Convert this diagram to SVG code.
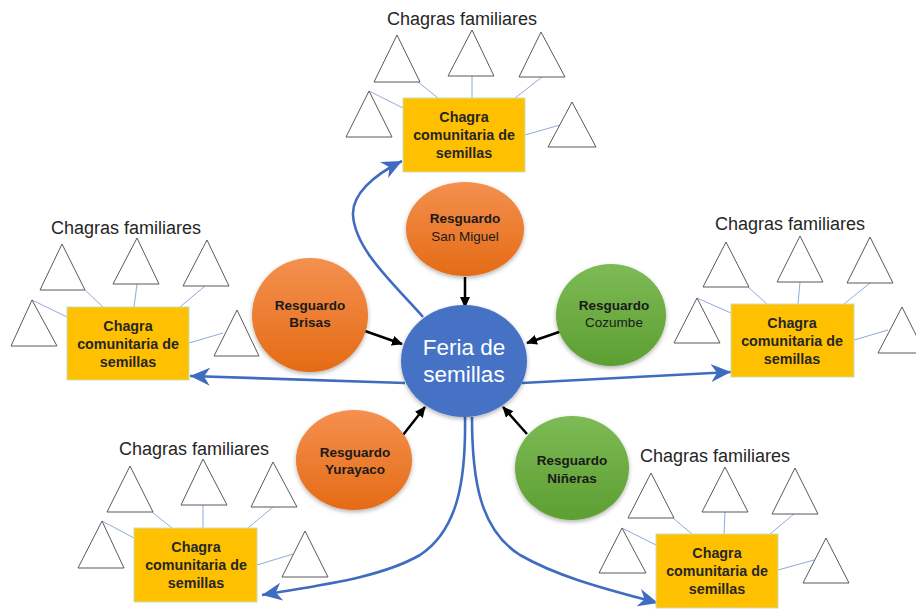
<svg xmlns="http://www.w3.org/2000/svg" width="916" height="609" viewBox="0 0 916 609">
<defs>
<linearGradient id="gOr" x1="0" y1="0" x2="0" y2="1"><stop offset="0" stop-color="#f4904f"/><stop offset="1" stop-color="#e56b15"/></linearGradient>
<linearGradient id="gGr" x1="0" y1="0" x2="0" y2="1"><stop offset="0" stop-color="#7dba55"/><stop offset="1" stop-color="#5d9f32"/></linearGradient>
<filter id="sh" x="-20%" y="-20%" width="140%" height="140%"><feDropShadow dx="0" dy="2" stdDeviation="2" flood-color="#000" flood-opacity="0.3"/></filter>
<marker id="mb" markerUnits="userSpaceOnUse" markerWidth="21" markerHeight="18" refX="20" refY="9" orient="auto"><path d="M0,0 L20,9 L0,18 L6,9 Z" fill="#3f6cc0"/></marker>
<marker id="mk" markerUnits="userSpaceOnUse" markerWidth="11" markerHeight="10" refX="10" refY="5" orient="auto"><path d="M0,0 L11,5 L0,10 Z" fill="#000"/></marker>
<style>
.tt{font-family:"Liberation Sans",Arial,sans-serif;font-size:18px;fill:#262626;text-anchor:middle}
.tri{fill:#fff;stroke:#595959;stroke-width:1}
.box{fill:#ffc000;stroke:#c5e0b4;stroke-width:1}
.bt{font-family:"Liberation Sans",Arial,sans-serif;font-size:14.3px;font-weight:bold;fill:#262626;text-anchor:middle}
.ct{font-family:"Liberation Sans",Arial,sans-serif;font-size:13.5px;fill:#1a1a1a;text-anchor:middle}
.b{font-weight:bold}
.thin{stroke:#8faadc;stroke-width:1;fill:none}
.blu{stroke:#3f6cc0;stroke-width:2.6;fill:none}
.blk{stroke:#000;stroke-width:2.5;fill:none}
</style>
</defs>
<rect width="916" height="609" fill="#fff"/>

<g id="connectors">
<!-- thin lines top -->
<line class="thin" x1="418" y1="82" x2="438" y2="98"/>
<line class="thin" x1="472" y1="76" x2="472" y2="98"/>
<line class="thin" x1="542" y1="77" x2="515" y2="98"/>
<line class="thin" x1="369" y1="91" x2="403" y2="108"/>
<line class="thin" x1="525" y1="135" x2="560" y2="125"/>
<!-- left -->
<line class="thin" x1="85" y1="290" x2="103" y2="307"/>
<line class="thin" x1="137" y1="284" x2="134" y2="307"/>
<line class="thin" x1="205" y1="286" x2="180" y2="307"/>
<line class="thin" x1="32" y1="300" x2="67" y2="317"/>
<line class="thin" x1="189" y1="343" x2="223" y2="333"/>
<!-- right -->
<line class="thin" x1="748" y1="287" x2="767" y2="304"/>
<line class="thin" x1="800" y1="282" x2="798" y2="304"/>
<line class="thin" x1="870" y1="283" x2="844" y2="304"/>
<line class="thin" x1="697" y1="298" x2="731" y2="313"/>
<line class="thin" x1="854" y1="340" x2="888" y2="330"/>
<!-- bottom-left -->
<line class="thin" x1="152" y1="512" x2="172" y2="528"/>
<line class="thin" x1="203" y1="505" x2="203" y2="528"/>
<line class="thin" x1="273" y1="507" x2="248" y2="528"/>
<line class="thin" x1="102" y1="521" x2="134" y2="538"/>
<line class="thin" x1="257" y1="565" x2="293" y2="554"/>
<!-- bottom-right -->
<line class="thin" x1="673" y1="518" x2="692" y2="534"/>
<line class="thin" x1="725" y1="512" x2="724" y2="534"/>
<line class="thin" x1="794" y1="514" x2="770" y2="534"/>
<line class="thin" x1="622" y1="528" x2="656" y2="545"/>
<line class="thin" x1="778" y1="570" x2="814" y2="560"/>
<!-- blue arrows -->
<path class="blu" marker-end="url(#mb)" d="M423,317 C395,285 355,250 353,215 C352,195 372,176 402,161"/>
<path class="blu" marker-end="url(#mb)" d="M405,383 L190,376"/>
<path class="blu" marker-end="url(#mb)" d="M522,383 L731,372"/>
<path class="blu" marker-end="url(#mb)" d="M465,417 C466,480 458,530 420,555 C380,578 320,585 262,595"/>
<path class="blu" marker-end="url(#mb)" d="M472,417 C472,480 480,530 520,555 C560,578 610,590 658,603"/>
<!-- black arrows -->
<line class="blk" marker-end="url(#mk)" x1="465" y1="277" x2="465" y2="307"/>
<line class="blk" marker-end="url(#mk)" x1="365" y1="331" x2="402" y2="344"/>
<line class="blk" marker-end="url(#mk)" x1="562" y1="331" x2="527" y2="343"/>
<line class="blk" marker-end="url(#mk)" x1="403" y1="435" x2="425" y2="407"/>
<line class="blk" marker-end="url(#mk)" x1="527" y1="434" x2="503" y2="407"/>
</g>

<g id="cluster-top">
<text class="tt" x="462" y="25">Chagras familiares</text>
<g id="top-t1"><polygon class="tri" points="397,35 420,82 374,82"/></g>
<g id="top-t2"><polygon class="tri" points="472,30 494,76 448,76"/></g>
<g id="top-t3"><polygon class="tri" points="541,32 565,77 519,77"/></g>
<g id="top-t4"><polygon class="tri" points="369,91 392,137 346,137"/></g>
<g id="top-t5"><polygon class="tri" points="572,102 596,147 548,147"/></g>
<g id="top-box"><rect class="box" x="403" y="98" width="122" height="74"/>
<text class="bt" x="464" y="122">Chagra</text><text class="bt" x="464" y="140">comunitaria de</text><text class="bt" x="464" y="158">semillas</text></g>
</g>

<g id="cluster-left">
<text class="tt" x="126" y="234">Chagras familiares</text>
<g id="left-t1"><polygon class="tri" points="62,244 85,290 40,290"/></g>
<g id="left-t2"><polygon class="tri" points="137,238 159,284 113,284"/></g>
<g id="left-t3"><polygon class="tri" points="207,240 229,286 183,286"/></g>
<g id="left-t4"><polygon class="tri" points="32,300 57,346 11,346"/></g>
<g id="left-t5"><polygon class="tri" points="237,310 259,356 214,356"/></g>
<g id="left-box"><rect class="box" x="67" y="307" width="122" height="73"/>
<text class="bt" x="128" y="331">Chagra</text><text class="bt" x="128" y="349">comunitaria de</text><text class="bt" x="128" y="367">semillas</text></g>
</g>

<g id="cluster-right">
<text class="tt" x="790" y="230">Chagras familiares</text>
<g id="right-t1"><polygon class="tri" points="726,242 749,287 703,287"/></g>
<g id="right-t2"><polygon class="tri" points="800,236 823,282 777,282"/></g>
<g id="right-t3"><polygon class="tri" points="870,237 893,283 847,283"/></g>
<g id="right-t4"><polygon class="tri" points="697,298 720,343 674,343"/></g>
<g id="right-t5"><polygon class="tri" points="902,307 925,353 878,353"/></g>
<g id="right-box"><rect class="box" x="731" y="304" width="123" height="73"/>
<text class="bt" x="792" y="328">Chagra</text><text class="bt" x="792" y="346">comunitaria de</text><text class="bt" x="792" y="364">semillas</text></g>
</g>

<g id="cluster-bottom-left">
<text class="tt" x="194" y="455">Chagras familiares</text>
<g id="bl-t1"><polygon class="tri" points="130,466 153,512 107,512"/></g>
<g id="bl-t2"><polygon class="tri" points="203,459 227,505 181,505"/></g>
<g id="bl-t3"><polygon class="tri" points="273,462 297,507 251,507"/></g>
<g id="bl-t4"><polygon class="tri" points="102,521 124,568 78,568"/></g>
<g id="bl-t5"><polygon class="tri" points="305,531 328,577 282,577"/></g>
<g id="bl-box"><rect class="box" x="134" y="528" width="123" height="74"/>
<text class="bt" x="196" y="552">Chagra</text><text class="bt" x="196" y="570">comunitaria de</text><text class="bt" x="196" y="588">semillas</text></g>
</g>

<g id="cluster-bottom-right">
<text class="tt" x="715" y="462">Chagras familiares</text>
<g id="br-t1"><polygon class="tri" points="651,473 674,518 628,518"/></g>
<g id="br-t2"><polygon class="tri" points="725,467 748,512 702,512"/></g>
<g id="br-t3"><polygon class="tri" points="795,468 818,514 772,514"/></g>
<g id="br-t4"><polygon class="tri" points="622,528 646,573 599,573"/></g>
<g id="br-t5"><polygon class="tri" points="826,538 849,583 803,583"/></g>
<g id="br-box"><rect class="box" x="656" y="534" width="122" height="74"/>
<text class="bt" x="717" y="558">Chagra</text><text class="bt" x="717" y="576">comunitaria de</text><text class="bt" x="717" y="594">semillas</text></g>
</g>

<g id="resguardo-san-miguel"><ellipse cx="465" cy="229" rx="59" ry="47" fill="url(#gOr)" filter="url(#sh)"/>
<text class="ct b" x="465" y="223">Resguardo</text><text class="ct" x="465" y="241" font-size="14">San Miguel</text></g>
<g id="resguardo-brisas"><ellipse cx="310" cy="315" rx="58" ry="57" fill="url(#gOr)" filter="url(#sh)"/>
<text class="ct b" x="310" y="310">Resguardo</text><text class="ct b" x="310" y="327">Brisas</text></g>
<g id="resguardo-cozumbe"><ellipse cx="611" cy="315" rx="55" ry="51" fill="url(#gGr)" filter="url(#sh)"/>
<text class="ct b" x="614" y="310">Resguardo</text><text class="ct" x="614" y="327" font-size="14">Cozumbe</text></g>
<g id="resguardo-yurayaco"><ellipse cx="354" cy="460" rx="58" ry="50" fill="url(#gOr)" filter="url(#sh)"/>
<text class="ct b" x="355" y="457">Resguardo</text><text class="ct b" x="355" y="474">Yurayaco</text></g>
<g id="resguardo-nineras"><ellipse cx="572" cy="468" rx="57" ry="52" fill="url(#gGr)" filter="url(#sh)"/>
<text class="ct b" x="572" y="465">Resguardo</text><text class="ct b" x="572" y="483">Niñeras</text></g>
<g id="feria"><ellipse cx="464" cy="361" rx="63" ry="56" fill="#4472c4" filter="url(#sh)"/>
<text x="464" y="355" font-family="Liberation Sans, Arial, sans-serif" font-size="22.5" fill="#fff" text-anchor="middle">Feria de</text>
<text x="464" y="382" font-family="Liberation Sans, Arial, sans-serif" font-size="22.5" fill="#fff" text-anchor="middle">semillas</text></g>
</svg>
